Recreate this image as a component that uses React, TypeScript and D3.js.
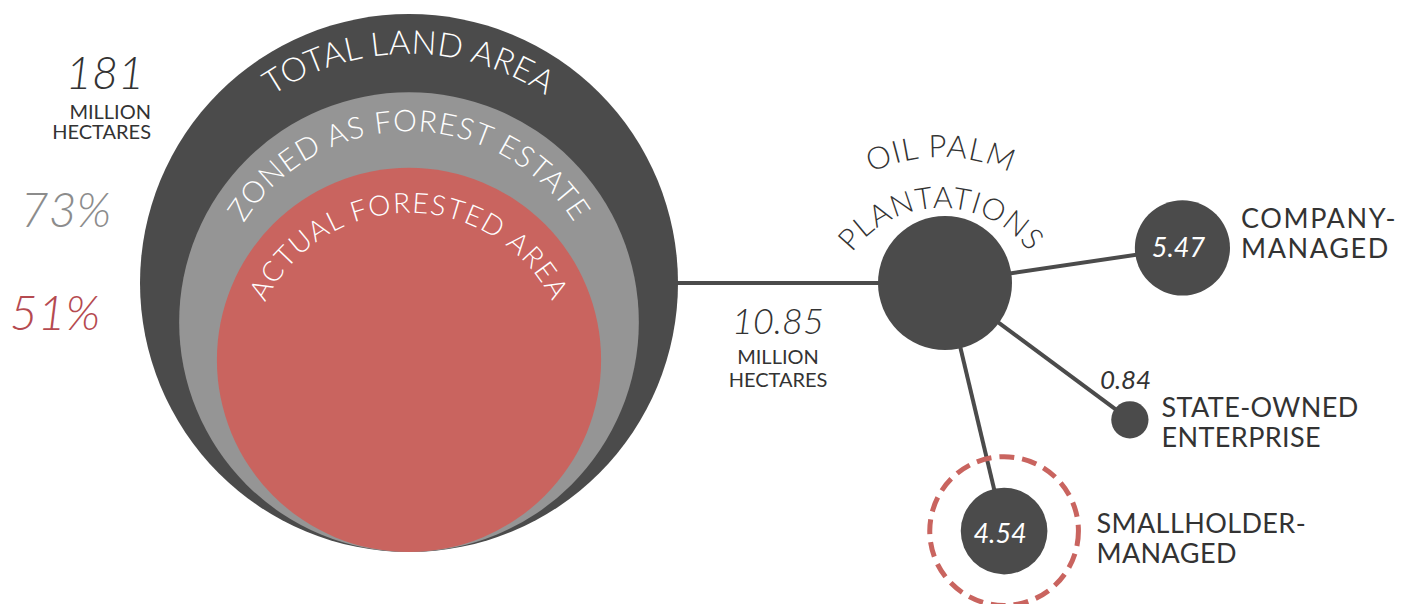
import * as d3 from 'd3';

// land area, million hectares, and the share of it in each nested layer
const totalLandMha = 181;
const landLayers = ['TOTAL LAND AREA', 'ZONED AS FOREST ESTATE', 'ACTUAL FORESTED AREA'];
const landShares = [1, 0.73, 0.51];
const landFills = ['#4b4b4b', '#959595', '#c9645f'];
const shareFills = ['#8c8c8c', '#b54a50'];

// oil palm plantations, million hectares
const plantationMha = 10.85;
const ownerLabels = [
  ['COMPANY-', 'MANAGED'],
  ['STATE-OWNED', 'ENTERPRISE'],
  ['SMALLHOLDER-', 'MANAGED'],
];
const ownerMha = [5.47, 0.84, 4.54];

const W = 1408;
const H = 604;
const FONT = "Lato, 'Open Sans', sans-serif";
const DARK = '#4b4b4b';
const INK = '#333333';

// layout of the ownership nodes around the hub (angle in degrees, distance in px)
const ownerAngle = [-8.4, 36.5, 76.6];
const ownerDist = [240, 230, 255];

// text arcs per land layer: shift of arc centre and inset of baseline from the edge
const layerText = [
  { dy: 17, inset: 23, size: 33, ls: 0.4 },
  { dy: 4, inset: 35, size: 30, ls: 1 },
  { dy: 13, inset: 32, size: 28, ls: 1.4 },
];

function arcPath(cx: number, cy: number, r: number) {
  const p = d3.path();
  p.arc(cx, cy, r, Math.PI, 2 * Math.PI);
  return p.toString();
}

export default function App() {
  const landCx = 409;
  const landBottom = 552;
  const rLand = d3.scaleSqrt().domain([0, 1]).range([0, 269]);
  const layers = landShares.map((s, i) => {
    const r = rLand(s);
    return { name: landLayers[i], r, cx: landCx, cy: landBottom - r, fill: landFills[i] };
  });
  const outer = layers[0];

  const rPalm = d3.scaleSqrt().domain([0, plantationMha]).range([0, 67]);
  const hub = { x: 945, y: outer.cy, r: rPalm(plantationMha) };

  const nodes = ownerMha.map((v, i) => {
    const a = (ownerAngle[i] * Math.PI) / 180;
    return {
      value: v,
      label: ownerLabels[i],
      r: rPalm(v),
      x: hub.x + Math.cos(a) * ownerDist[i],
      y: hub.y + Math.sin(a) * ownerDist[i],
    };
  });
  const [company, state, small] = nodes;
  const ringR = small.r + 31;

  const fmt = d3.format('.2f');
  const pct = d3.format('.0%');

  const lineMid = (outer.cx + outer.r + hub.x - hub.r) / 2;
  const labelCx = hub.x - 4;
  const labelCy = hub.y + 36;

  return (
    <svg
      width={W}
      height={H}
      style={{ position: 'absolute', left: 0, top: 0, background: '#fff' }}
      fontFamily={FONT}
    >
      <defs>
        {layers.map((l, i) => (
          <path
            key={i}
            id={`land-arc-${i}`}
            d={arcPath(l.cx, l.cy + layerText[i].dy, l.r - layerText[i].inset)}
          />
        ))}
        <path id="palm-arc-1" d={arcPath(labelCx, labelCy, 162)} />
        <path id="palm-arc-2" d={arcPath(labelCx, labelCy, 111)} />
      </defs>

      {/* connecting lines */}
      <g stroke={DARK} strokeWidth={4}>
        <line x1={outer.cx} y1={outer.cy} x2={hub.x} y2={hub.y} />
        {nodes.map((n, i) => (
          <line key={i} x1={hub.x} y1={hub.y} x2={n.x} y2={n.y} />
        ))}
      </g>

      {/* nested land circles */}
      {layers.map((l, i) => (
        <circle key={i} cx={l.cx} cy={l.cy} r={l.r} fill={l.fill} />
      ))}
      {layers.map((l, i) => (
        <text
          key={i}
          fill="#fff"
          fontSize={layerText[i].size}
          fontWeight={300}
          letterSpacing={layerText[i].ls}
          textAnchor="middle"
        >
          <textPath href={`#land-arc-${i}`} startOffset="50%">
            {l.name}
          </textPath>
        </text>
      ))}

      {/* left annotations */}
      <text x={105} y={89} textAnchor="middle" fontSize={45} fontWeight={300} fontStyle="italic" fill={INK}>
        {totalLandMha}
      </text>
      <text x={151} y={119} textAnchor="end" fontSize={20} fill={INK}>
        MILLION
      </text>
      <text x={151} y={139} textAnchor="end" fontSize={20} fill={INK}>
        HECTARES
      </text>
      {landShares.slice(1).map((s, i) => (
        <text
          key={i}
          x={[66, 55][i]}
          y={[227, 330][i]}
          textAnchor="middle"
          fontSize={48}
          fontWeight={300}
          fontStyle="italic"
          fill={shareFills[i]}
        >
          {pct(s)}
        </text>
      ))}

      {/* plantation total */}
      <text x={lineMid} y={hub.y + 51} textAnchor="middle" fontSize={36} fontWeight={300} fontStyle="italic" fill={INK}>
        {fmt(plantationMha)}
      </text>
      <text x={lineMid} y={hub.y + 81} textAnchor="middle" fontSize={20} fill={INK}>
        MILLION
      </text>
      <text x={lineMid} y={hub.y + 104} textAnchor="middle" fontSize={20} fill={INK}>
        HECTARES
      </text>

      {/* hub and nodes */}
      <circle cx={hub.x} cy={hub.y} r={hub.r} fill={DARK} />
      {nodes.map((n, i) => (
        <circle key={i} cx={n.x} cy={n.y} r={n.r} fill={DARK} />
      ))}
      <circle
        cx={small.x}
        cy={small.y}
        r={ringR}
        fill="none"
        stroke="#c9645f"
        strokeWidth={5}
        strokeDasharray="15 8"
      />

      <text fill={INK} fontSize={31} fontWeight={300} letterSpacing={1} textAnchor="middle">
        <textPath href="#palm-arc-1" startOffset="50%">
          OIL PALM
        </textPath>
      </text>
      <text fill={INK} fontSize={30} fontWeight={300} letterSpacing={1} textAnchor="middle">
        <textPath href="#palm-arc-2" startOffset="50%">
          PLANTATIONS
        </textPath>
      </text>

      {/* values */}
      <text x={company.x - 4} y={company.y + 9} textAnchor="middle" fontSize={27} fontStyle="italic" fill="#fff">
        {fmt(company.value)}
      </text>
      <text x={small.x - 4} y={small.y + 12} textAnchor="middle" fontSize={27} fontStyle="italic" fill="#fff">
        {fmt(small.value)}
      </text>
      <text x={state.x - 30} y={state.y - 31} fontSize={26} fontStyle="italic" fill={INK}>
        {fmt(state.value)}
      </text>

      {/* ownership labels */}
      {[
        { n: company, x: company.x + company.r + 11, y: company.y - 20, ls: 1.6 },
        { n: state, x: state.x + state.r + 13, y: state.y - 3, ls: 0.4 },
        { n: small, x: small.x + ringR + 18, y: small.y + 2, ls: 0.4 },
      ].map((o, i) => (
        <text key={i} x={o.x} y={o.y} fontSize={27} fill={INK} letterSpacing={o.ls}>
          <tspan x={o.x}>{o.n.label[0]}</tspan>
          <tspan x={o.x} dy={30}>
            {o.n.label[1]}
          </tspan>
        </text>
      ))}
    </svg>
  );
}
